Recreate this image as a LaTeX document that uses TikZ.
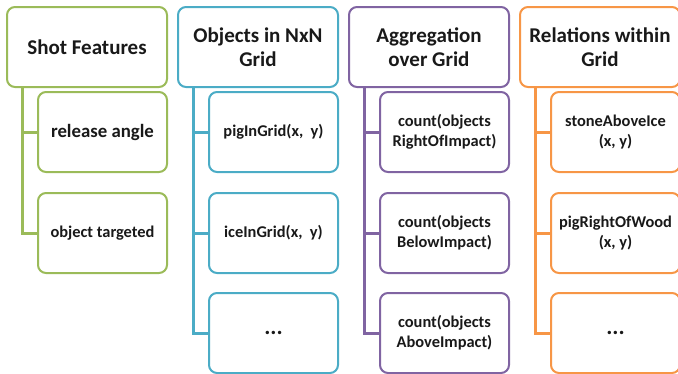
\documentclass[tikz,border=0pt]{standalone}
\usepackage{fontspec}
\setmainfont{Carlito}
\definecolor{ogreen}{HTML}{9BBB59}
\definecolor{oblue}{HTML}{4BACC6}
\definecolor{opurple}{HTML}{8064A2}
\definecolor{oorange}{HTML}{F79646}
\tikzset{
  box/.style={draw=#1, line width=2pt, rounded corners=8pt, fill=white,
    align=center, inner sep=2pt, text=black!90},
  hdr/.style={box=#1, minimum width=160pt, minimum height=80pt,
    font=\fontsize{21}{24}\selectfont\bfseries},
  item/.style={box=#1, minimum width=129pt, minimum height=80pt,
    font=\fontsize{16.4}{20}\selectfont\bfseries},
  more/.style={item=#1, font=\fontsize{23}{24}\selectfont\bfseries},
  link/.style={draw=#1, line width=3pt}
}
\begin{document}
\begin{tikzpicture}[x=1pt,y=-1pt]
\useasboundingbox (0,0) rectangle (678,373);

% shot features
\node[hdr=ogreen] (shot) at (87,47) {Shot Features};
\node[item=ogreen, font=\fontsize{18.8}{22}\selectfont\bfseries] (release) at (102.5,132) {release angle};
\node[item=ogreen] (target) at (102.5,233) {object targeted};

% objects in grid
\node[hdr=oblue] (objects) at (258,47) {Objects in NxN\\Grid};
\node[item=oblue] (pig) at (273.5,132) {pigInGrid(x,~ y)};
\node[item=oblue] (ice) at (273.5,233) {iceInGrid(x,~ y)};
\node[more=oblue] (objmore) at (273.5,333) {...};

% aggregation
\node[hdr=opurple] (aggr) at (429,47) {Aggregation\\over Grid};
\node[item=opurple] (right) at (444.5,132) {count(objects\\RightOfImpact)};
\node[item=opurple] (below) at (444.5,233) {count(objects\\BelowImpact)};
\node[item=opurple] (above) at (444.5,333) {count(objects\\AboveImpact)};

% relations
\node[hdr=oorange] (rel) at (600,47) {Relations within\\Grid};
\node[item=oorange] (stone) at (615.5,132) {stoneAboveIce\\(x, y)};
\node[item=oorange] (wood) at (615.5,233) {pigRightOfWood\\(x, y)};
\node[more=oorange] (relmore) at (615.5,333) {...};

% connectors
\draw[link=ogreen] ([xshift=16pt]shot.south west) |- (release.west);
\draw[link=ogreen] ([xshift=16pt]shot.south west) |- (target.west);
\draw[link=oblue] ([xshift=16pt]objects.south west) |- (pig.west);
\draw[link=oblue] ([xshift=16pt]objects.south west) |- (ice.west);
\draw[link=oblue] ([xshift=16pt]objects.south west) |- (objmore.west);
\draw[link=opurple] ([xshift=16pt]aggr.south west) |- (right.west);
\draw[link=opurple] ([xshift=16pt]aggr.south west) |- (below.west);
\draw[link=opurple] ([xshift=16pt]aggr.south west) |- (above.west);
\draw[link=oorange] ([xshift=16pt]rel.south west) |- (stone.west);
\draw[link=oorange] ([xshift=16pt]rel.south west) |- (wood.west);
\draw[link=oorange] ([xshift=16pt]rel.south west) |- (relmore.west);
\end{tikzpicture}
\end{document}
